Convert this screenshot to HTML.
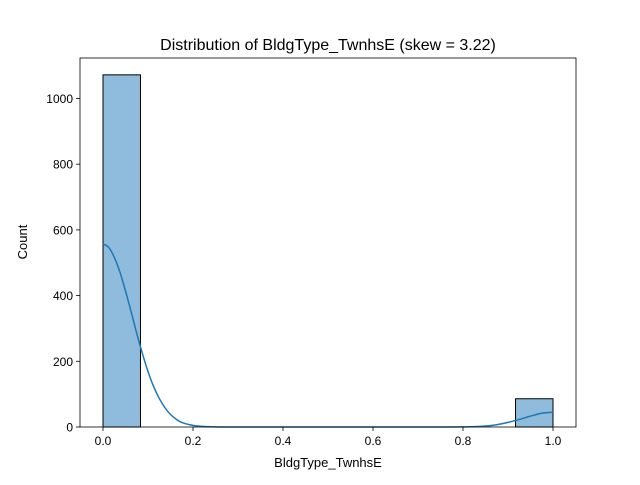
<!DOCTYPE html>
<html><head><meta charset="utf-8"><style>
body{margin:0;background:#fff;}
svg{font-family:"Liberation Sans","DejaVu Sans",sans-serif;}
</style></head><body>
<svg id="chart" width="640" height="480" viewBox="0 0 640 480">
<rect x="0" y="0" width="640" height="480" fill="#fff"/>
<text x="328" y="50" text-anchor="middle" font-size="16">Distribution of BldgType_TwnhsE (skew = 3.22)</text>
<g id="bars"></g>
<g id="kde"></g>
<g id="axes"></g>
<text x="328" y="467" text-anchor="middle" font-size="13">BldgType_TwnhsE</text>
<text x="27" y="242" text-anchor="middle" font-size="13" transform="rotate(-90 27 242)">Count</text>
</svg>
<script>
const binEdges = [0,0.0833,0.1667,0.25,0.3333,0.4167,0.5,0.5833,0.6667,0.75,0.8333,0.9167,1.0];
const binCounts = [1072,0,0,0,0,0,0,0,0,0,0,86];
const kdeX = [0,0.0125,0.025,0.0375,0.05,0.0625,0.075,0.0875,0.1,0.1125,0.125,0.1375,0.15,0.1625,0.175,0.2,0.225,0.25,0.3,0.5,0.7,0.75,0.8,0.825,0.85,0.875,0.9,0.925,0.95,0.975,1.0];
const kdeY = [557,547,517,472,414,351,285,224,169,123,87,59,38,24,14,5,1.4,0.3,0,0,0,0,0.4,1,3,7,14,23,33,42,45];
const xTicks = [0,0.2,0.4,0.6,0.8,1.0];
const xTickLabels = ["0.0","0.2","0.4","0.6","0.8","1.0"];
const yTicks = [0,200,400,600,800,1000];
const yTickLabels = ["0","200","400","600","800","1000"];

const NS="http://www.w3.org/2000/svg";
const L=80,R=576,T=58,B=427;
function sx(v){return 103+v*450;}
function sy(v){return 427-v*0.3285;}
function mk(tag,attrs,parent){const e=document.createElementNS(NS,tag);for(const k in attrs)e.setAttribute(k,attrs[k]);parent.appendChild(e);return e;}
const bars=document.getElementById('bars');
binCounts.forEach((c,i)=>{
  if(c<=0)return;
  const x0=sx(binEdges[i]),x1=sx(binEdges[i+1]);
  const r=mk('rect',{x:x0,y:sy(c),width:x1-x0,height:sy(0)-sy(c),fill:'#8fbbdc',stroke:'#000','stroke-width':1},bars);
  
  
});
const kde=document.getElementById('kde');
const pts=kdeX.map((x,i)=>[sx(x),sy(kdeY[i])]);
let d='M'+pts[0][0]+','+pts[0][1];
for(let i=0;i<pts.length-1;i++){
  const p0=pts[Math.max(0,i-1)],p1=pts[i],p2=pts[i+1],p3=pts[Math.min(pts.length-1,i+2)];
  const c1=[p1[0]+(p2[0]-p0[0])/6,p1[1]+(p2[1]-p0[1])/6];
  const c2=[p2[0]-(p3[0]-p1[0])/6,p2[1]-(p3[1]-p1[1])/6];
  d+=' C'+c1[0]+','+c1[1]+' '+c2[0]+','+c2[1]+' '+p2[0]+','+p2[1];
}
const p=mk('path',{d:d,fill:'none',stroke:'#1f77b4','stroke-width':1.5},kde);


const ax=document.getElementById('axes');
const fr=mk('rect',{x:L,y:T,width:R-L,height:B-T,fill:'none',stroke:'#000','stroke-width':0.8},ax);


xTicks.forEach((v,i)=>{
  const x=sx(v);
  mk('line',{x1:x,x2:x,y1:B,y2:B+4,stroke:'#000','stroke-width':0.8},ax);
  const t=mk('text',{x:x,y:B+18,'text-anchor':'middle','font-size':12},ax);
  t.textContent=xTickLabels[i];
  
  
});
yTicks.forEach((v,i)=>{
  const y=sy(v);
  mk('line',{x1:L-4,x2:L,y1:y,y2:y,stroke:'#000','stroke-width':0.8},ax);
  const t=mk('text',{x:L-7,y:y+4.5,'text-anchor':'end','font-size':12},ax);
  t.textContent=yTickLabels[i];
  
  
});
</script>
</body></html>
